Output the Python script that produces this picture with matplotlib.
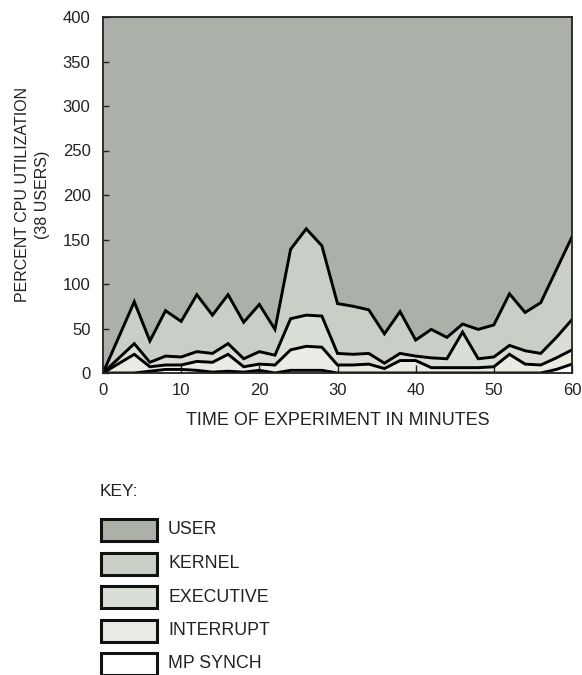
import matplotlib
matplotlib.use("Agg")
import matplotlib.pyplot as plt
from matplotlib.patches import Rectangle

plt.rcParams['font.family'] = ['Liberation Sans', 'DejaVu Sans']

# minutes into the run
minutes = [0, 4, 6, 8, 10, 12, 14, 16, 18, 20, 22, 24, 26, 28, 30,
           32, 34, 36, 38, 40, 42, 44, 46, 48, 50, 52, 54, 56, 58, 60]

# cumulative boundaries (percent), bottom layer first
mp_synch_top = [0, 0, 2, 4, 4, 3, 1, 2, 1, 3, 0, 3, 3, 3, 0,
                0, 0, 0, 0, 0, 0, 0, 0, 0, 0, 0, 0, 0, 4, 10]
interrupt_top = [0, 21, 7, 9, 9, 13, 12, 21, 7, 10, 9, 26, 30, 29, 9,
                 9, 10, 5, 14, 14, 6, 6, 6, 6, 7, 21, 10, 9, 17, 26]
executive_top = [0, 33, 12, 19, 18, 24, 22, 33, 16, 24, 20, 61, 65, 64, 22,
                 21, 22, 11, 22, 19, 17, 16, 46, 16, 18, 31, 25, 22, 40, 60]
kernel_top = [0, 80, 36, 70, 58, 88, 65, 88, 57, 77, 49, 139, 162, 143, 78,
              75, 71, 44, 69, 37, 49, 40, 55, 49, 54, 89, 68, 79, 116, 153]
capacity = 400  # user time fills the rest up to four processors

layer_names = ["USER", "KERNEL", "EXECUTIVE", "INTERRUPT", "MP SYNCH"]
layer_colors = ["#abb0a9", "#c9cfc6", "#d9dfd6", "#e8ece4", "#ffffff"]
ink = '#222222'

fig = plt.figure(figsize=(5.82, 6.75), dpi=100)
ax = fig.add_axes([103 / 582, 1 - 373 / 675, 469 / 582, 356 / 675])

zero = [0] * len(minutes)
top = [capacity] * len(minutes)
bands = [(kernel_top, top), (executive_top, kernel_top),
         (interrupt_top, executive_top), (mp_synch_top, interrupt_top),
         (zero, mp_synch_top)]
for (lo, hi), c in zip(bands, layer_colors):
    ax.fill_between(minutes, lo, hi, facecolor=c, edgecolor='none', zorder=1)

for curve in [kernel_top, executive_top, interrupt_top, mp_synch_top]:
    ax.plot(minutes, curve, color='black', lw=2.1, solid_joinstyle='miter', zorder=3)

ax.set_xlim(0, 60)
ax.set_ylim(0, 400)
ax.set_xticks(range(0, 61, 10))
ax.set_yticks(range(0, 401, 50))
ax.tick_params(axis='both', direction='in', labelsize=12, color=ink, labelcolor=ink)
ax.tick_params(axis='x', length=6, width=1, pad=7)
ax.tick_params(axis='y', length=4, width=1, pad=9)
for s in ax.spines.values():
    s.set_linewidth(1.3)
    s.set_color(ink)
    s.set_zorder(4)

ax.set_xlabel("TIME OF EXPERIMENT IN MINUTES", fontsize=13, color=ink, labelpad=10)
ax.set_ylabel("PERCENT CPU UTILIZATION\n(38 USERS)", fontsize=11.5, color=ink,
              labelpad=9, linespacing=1.45)

# key below the chart, drawn in pixel coordinates
key = fig.add_axes([0, 0, 1, 1], zorder=-1)
key.set_xlim(0, 582)
key.set_ylim(675, 0)
key.axis('off')
key.text(100, 492, "KEY:", fontsize=12.5, va='center', ha='left', color=ink)
for i, (name, c) in enumerate(zip(layer_names, layer_colors)):
    y = 519 + i * 33.5
    key.add_patch(Rectangle((101, y), 56, 22, facecolor=c, edgecolor='#111111', lw=2.2))
    key.text(168, y + 11, name, fontsize=12.8, va='center', ha='left', color=ink)

fig.savefig("out.png", dpi=100)
